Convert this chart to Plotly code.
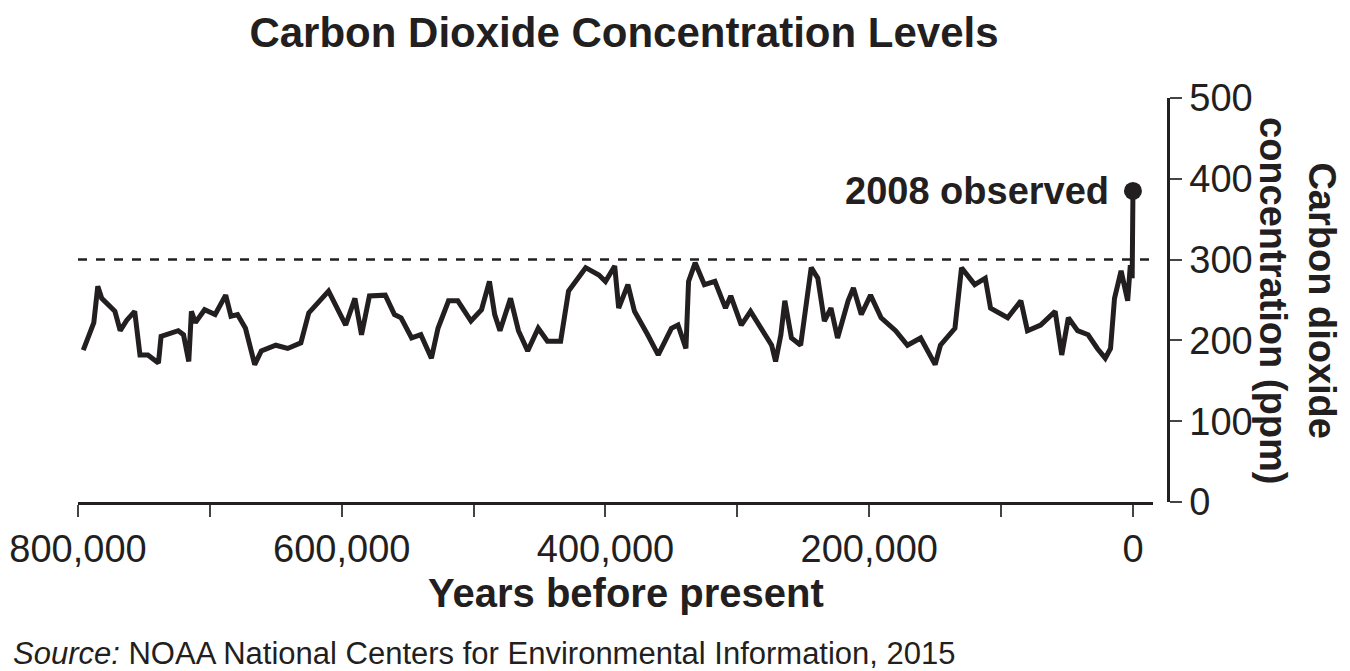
import plotly.graph_objects as go

# years before present (thousands) and CO2 ppm
kyr = [796,788,785,782,772,768,763,757,753,747,739,737,724,720,716,714,711,704,696,688,684,679,673,666,661,650,641,631,625,610,597,590,585,579,567,560,555,547,540,532,527,519,512,502,494,488,484,480,472,466,459,451,444,434,428,423,415,405,400,393,390,383,378,368,360,350,345,339,337,332,325,317,309,305,297,290,282,274,271,267,264,259,252,244,239,234,229,224,216,212,206,199,191,180,171,161,150,146,135,130,120,112,108,95,85,80,70,59,54,49,42,34,27,21,17,14,9,4,2,0.6,0]
ppm = [188,222,267,252,236,212,225,236,182,182,172,205,212,207,174,236,222,238,232,256,230,232,215,170,187,194,190,197,234,261,219,252,207,255,256,232,228,203,207,178,215,249,249,224,238,273,232,212,252,212,187,215,199,199,261,273,290,281,273,292,240,269,236,207,182,215,219,190,273,296,269,273,240,255,219,236,215,194,174,207,249,203,194,290,277,224,240,203,249,265,232,256,228,212,194,203,170,194,215,290,269,277,240,228,249,212,219,236,182,228,212,207,190,178,190,252,286,249,293,277,385]
x_ticks = [800000,700000,600000,500000,400000,300000,200000,100000,0]
x_labels = ["800,000","","600,000","","400,000","","200,000","","0"]
y_ticks = [0,100,200,300,400,500]

years = [k*1000 for k in kyr]
F = "Liberation Sans, Arial, sans-serif"
L, R, T, B = 70, 190, 90, 177
pw, ph = 1350 - L - R, 671 - T - B
def px(x): return (x - L) / pw
def py(y): return (671 - B - y) / ph

fig = go.Figure()
fig.add_trace(go.Scatter(x=years, y=ppm, mode="lines",
                         line=dict(color="#231f20", width=5), hoverinfo="skip"))
fig.add_trace(go.Scatter(x=[years[-1]], y=[ppm[-1]], mode="markers",
                         marker=dict(color="#231f20", size=18), hoverinfo="skip"))
fig.add_shape(type="line", xref="x", yref="y", x0=800000, x1=-26000, y0=300, y1=300,
              line=dict(color="#231f20", width=2.5, dash="dash"))

fig.update_layout(
    width=1350, height=671, showlegend=False,
    paper_bgcolor="white", plot_bgcolor="white",
    margin=dict(l=L, r=R, t=T, b=B, autoexpand=False),
    font=dict(family=F, color="#231f20", size=38),
    title=dict(text="<b>Carbon Dioxide Concentration Levels</b>", x=616/1350, xanchor="center",
               y=1 - 24/671, yanchor="middle", font=dict(size=42)),
    xaxis=dict(range=[800000, -15000], domain=[0, 0.986], tickvals=x_ticks, ticktext=x_labels,
               ticks="outside", ticklen=12, tickwidth=2, showline=True, linewidth=2.5,
               linecolor="#231f20", showgrid=False, zeroline=False, automargin=False,
               tickfont=dict(size=38)),
    yaxis=dict(range=[0, 500], side="right", anchor="free", position=1, tickvals=y_ticks,
               ticks="outside", ticklen=12, tickwidth=2, showline=True, linewidth=2.5,
               linecolor="#231f20", showgrid=False, zeroline=False, automargin=False,
               tickfont=dict(size=38)),
    annotations=[
        dict(text="<b>2008 observed</b>", x=years[-1], y=385, xref="x", yref="y",
             xshift=-22, xanchor="right", yanchor="middle", showarrow=False, font=dict(size=38)),
        dict(text="<b>Carbon dioxide<br>concentration (ppm)</b>", x=px(1290), y=py(292),
             xref="paper", yref="paper", xanchor="center", yanchor="middle",
             showarrow=False, textangle=90, font=dict(size=38)),
        dict(text="<b>Years before present</b>", x=px(618), y=py(585), xref="paper",
             yref="paper", xanchor="center", yanchor="middle", showarrow=False,
             font=dict(size=40)),
        dict(text="<i>Source:</i> NOAA National Centers for Environmental Information, 2015",
             x=px(3), y=py(645), xref="paper", yref="paper", xanchor="left", yanchor="middle",
             showarrow=False, font=dict(size=31)),
    ],
)
fig.write_html("out.html")
